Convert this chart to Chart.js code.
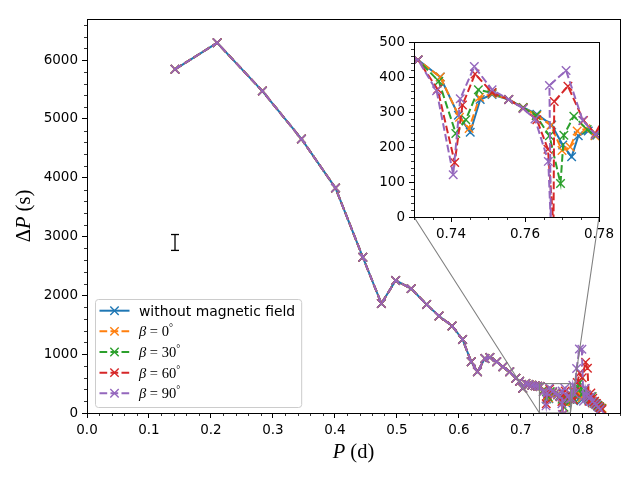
<!DOCTYPE html>
<html>
<head>
<meta charset="utf-8">
<script src="https://cdn.jsdelivr.net/npm/chart.js@4.4.1/dist/chart.umd.min.js"></script>
<style>
  html, body { margin: 0; padding: 0; background: #fff; }
  #wrap { position: relative; width: 640px; height: 480px; }
  #main { position: absolute; left: 0; top: 0; }
  #inset { position: absolute; left: 360px; top: 30px; }
</style>
</head>
<body>
<div id="wrap">
  <canvas id="main" width="640" height="480"></canvas>
  <canvas id="inset" width="262" height="220"></canvas>
</div>
<script>
// period spacing, all five runs coincide up to P ~ 0.73 d
const sharedPeriod = [0.142, 0.210, 0.283, 0.346, 0.401, 0.445, 0.475, 0.498, 0.523, 0.548, 0.568, 0.589, 0.606, 0.620, 0.630, 0.642, 0.650, 0.661, 0.671, 0.682, 0.692, 0.698, 0.703, 0.708, 0.713, 0.718, 0.723, 0.727, 0.7311];
const sharedDP = [5845, 6295, 5475, 4660, 3825, 2650, 1860, 2255, 2115, 1845, 1650, 1480, 1250, 870, 700, 925, 945, 870, 785, 700, 590, 540, 420, 500, 485, 470, 462, 456, 449];

// long-period tail, one list per run
const noFieldPeriod = [0.7371, 0.7420, 0.7452, 0.7479, 0.7511, 0.7556, 0.7595, 0.7632, 0.7672, 0.7702, 0.7726, 0.7744, 0.7771, 0.7794, 0.782, 0.785, 0.788, 0.791, 0.795, 0.799, 0.803, 0.806, 0.809, 0.812, 0.815, 0.818, 0.821, 0.824, 0.827, 0.830];
const noFieldDP = [400, 291, 242, 336, 350, 336, 313, 294, 263, 206, 172, 232, 246, 234, 255, 210, 280, 320, 260, 230, 290, 250, 220, 200, 180, 160, 140, 115, 95, 65];

const beta0Period = [0.7371, 0.7423, 0.7449, 0.7477, 0.7511, 0.7556, 0.7595, 0.7632, 0.7670, 0.7700, 0.7722, 0.7741, 0.7764, 0.7789, 0.782, 0.785, 0.788, 0.791, 0.795, 0.799, 0.803, 0.806, 0.809, 0.812, 0.815, 0.818, 0.821, 0.824, 0.827, 0.831];
const beta0DP = [400, 285, 253, 342, 352, 336, 313, 290, 262, 190, 200, 246, 252, 232, 270, 230, 300, 370, 320, 260, 320, 270, 240, 220, 200, 175, 150, 125, 105, 80];

const beta30Period = [0.7367, 0.7413, 0.7440, 0.7474, 0.7511, 0.7556, 0.7595, 0.7630, 0.7666, 0.7696, 0.7705, 0.7732, 0.7768, 0.7790, 0.782, 0.785, 0.788, 0.791, 0.795, 0.799, 0.803, 0.806, 0.809, 0.812, 0.815, 0.818, 0.821, 0.824, 0.827, 0.830];
const beta30DP = [388, 239, 278, 364, 355, 336, 312, 290, 232, 96, 234, 288, 250, 235, 290, 240, 330, 420, 520, 320, 380, 300, 260, 230, 280, 190, 160, 130, 107, 75];

const beta60Period = [0.7364, 0.7410, 0.7431, 0.7465, 0.7511, 0.7556, 0.7595, 0.7632, 0.7662, 0.7677, 0.7679, 0.7716, 0.7758, 0.7790, 0.782, 0.785, 0.788, 0.791, 0.795, 0.799, 0.8045, 0.8075, 0.810, 0.813, 0.816, 0.819, 0.822, 0.825, 0.828, 0.831];
const beta60DP = [365, 156, 320, 409, 356, 336, 310, 278, 194, -25, 330, 374, 276, 238, 300, 220, 360, 520, 680, 600, 865, 760, 200, 340, 250, 200, 160, 120, 90, 60];

const beta90Period = [0.7361, 0.7406, 0.7425, 0.7463, 0.7511, 0.7556, 0.7595, 0.7627, 0.7663, 0.7670, 0.7666, 0.7711, 0.7756, 0.7790, 0.7815, 0.784, 0.7865, 0.790, 0.7945, 0.7985, 0.801, 0.804, 0.807, 0.810, 0.813, 0.816, 0.819, 0.822, 0.825, 0.828];
const beta90DP = [361, 121, 338, 430, 364, 336, 310, 280, 159, -25, 376, 419, 276, 236, 250, 470, 330, 757, 1090, 1085, 200, 420, 300, 250, 280, 200, 160, 140, 100, 60];

const betaAngles = [0, 30, 60, 90];
const noFieldLabel = 'without magnetic field';

// typical uncertainty bar
const errorBarP = [0.142];
const errorBarDP = [2900];
const errorBarHalf = [135];

const mainXTicks = [0, 0.1, 0.2, 0.3, 0.4, 0.5, 0.6, 0.7, 0.8];
const mainYTicks = [0, 1000, 2000, 3000, 4000, 5000, 6000];
const insetXTicks = [0.74, 0.76, 0.78];
const insetYTicks = [0, 100, 200, 300, 400, 500];

const COLORS = ['#1f77b4', '#ff7f0e', '#2ca02c', '#d62728', '#9467bd'];
const DASH = [7.7, 3.3];
const SANS = '"DejaVu Sans", sans-serif';
const SERIF = '"Liberation Serif", "DejaVu Serif", serif';
const TITLE_SIZE = '20.5px ';

function pairs(xs, ys) {
  return xs.map((x, i) => ({ x: x, y: ys[i] }));
}

function buildDatasets() {
  const tails = [
    [noFieldPeriod, noFieldDP],
    [beta0Period, beta0DP],
    [beta30Period, beta30DP],
    [beta60Period, beta60DP],
    [beta90Period, beta90DP]
  ];
  return tails.map(([p, d], i) => ({
    data: pairs(sharedPeriod.concat(p), sharedDP.concat(d)),
    borderColor: COLORS[i],
    backgroundColor: COLORS[i],
    borderWidth: 2,
    borderDash: i === 0 ? [] : DASH,
    pointStyle: 'crossRot',
    pointRadius: 6,
    pointHoverRadius: 6,
    pointBorderWidth: 1.4,
    pointBorderColor: COLORS[i],
    tension: 0,
    fill: false,
    order: 5 - i   // last series ends up on top, like matplotlib
  }));
}

function axisOpts(min, max, ticks, size, fmt) {
  return {
    type: 'linear',
    min: min,
    max: max,
    afterBuildTicks: s => { s.ticks = ticks.map(v => ({ value: v })); },
    afterFit: s => { if (s.isHorizontal()) s.height = size; else s.width = size; },
    ticks: {
      color: '#000',
      font: { family: SANS, size: 13.5 },
      padding: 4,
      maxRotation: 0,
      autoSkip: false,
      callback: fmt
    },
    grid: {
      display: true,
      drawOnChartArea: false,
      drawTicks: true,
      tickLength: 5,
      color: '#000',
      tickColor: '#000',
      lineWidth: 1
    },
    border: { display: false }
  };
}

function minorTicks(ctx, scale, step, every, horizontal, edge) {
  const n0 = Math.ceil(scale.min / step - 1e-9);
  const n1 = Math.floor(scale.max / step + 1e-9);
  ctx.beginPath();
  for (let n = n0; n <= n1; n++) {
    if (n % every === 0) continue;
    const p = Math.round(scale.getPixelForValue(n * step)) + 0.5;
    if (horizontal) { ctx.moveTo(p, edge); ctx.lineTo(p, edge + 3); }
    else { ctx.moveTo(edge, p); ctx.lineTo(edge - 3, p); }
  }
  ctx.stroke();
}

// frame on all four sides + minor ticks, as matplotlib draws them
const framePlugin = {
  id: 'frame',
  afterDraw(chart, args, opts) {
    const { ctx, chartArea: a, scales } = chart;
    ctx.save();
    ctx.strokeStyle = '#000';
    ctx.lineWidth = 0.8;
    minorTicks(ctx, scales.x, opts.xMinor, opts.xEvery, true, a.bottom);
    minorTicks(ctx, scales.y, opts.yMinor, opts.yEvery, false, a.left);
    ctx.lineWidth = 1;
    ctx.strokeRect(Math.round(a.left) + 0.5, Math.round(a.top) + 0.5,
      Math.round(a.right) - Math.round(a.left), Math.round(a.bottom) - Math.round(a.top));
    ctx.restore();
  }
};

function drawRich(ctx, parts, x, y, center) {
  let w = 0;
  parts.forEach(p => { ctx.font = p[1]; w += ctx.measureText(p[0]).width; });
  let cx = center ? x - w / 2 : x;
  parts.forEach(p => {
    ctx.font = p[1];
    ctx.fillText(p[0], cx, y + (p[2] || 0));
    cx += ctx.measureText(p[0]).width;
  });
  return w;
}

const insetCanvas = document.getElementById('inset');
const insetChart = new Chart(insetCanvas, {
  type: 'line',
  data: { datasets: buildDatasets() },
  plugins: [framePlugin],
  options: {
    responsive: false,
    animation: false,
    devicePixelRatio: 1,
    layout: { padding: { left: 0, right: 23, top: 10, bottom: 0 } },
    plugins: {
      legend: { display: false },
      tooltip: { enabled: false },
      frame: { xMinor: 0.005, xEvery: 4, yMinor: 20, yEvery: 5 }
    },
    scales: {
      x: axisOpts(0.73, 0.78, insetXTicks, 33, v => v.toFixed(2)),
      y: axisOpts(0, 500, insetYTicks, 54, v => String(v))
    }
  }
});

const mainDecor = {
  id: 'mainDecor',
  afterDatasetsDraw(chart) {
    const { ctx, scales: { x, y } } = chart;
    const ix = insetChart.scales.x, iy = insetChart.scales.y, ia = insetChart.chartArea;
    const rx0 = x.getPixelForValue(ix.min), rx1 = x.getPixelForValue(ix.max);
    const ry0 = y.getPixelForValue(iy.min), ry1 = y.getPixelForValue(iy.max);
    const ox = insetCanvas.offsetLeft, oy = insetCanvas.offsetTop;
    ctx.save();
    ctx.strokeStyle = '#808080';
    ctx.lineWidth = 1.1;
    ctx.strokeRect(rx0, ry1, rx1 - rx0, ry0 - ry1);
    ctx.beginPath();
    ctx.moveTo(ia.left + ox, ia.bottom + oy);
    ctx.lineTo(rx0, ry0);
    ctx.moveTo(ia.right + ox, ia.bottom + oy);
    ctx.lineTo(rx1, ry0);
    ctx.stroke();
    ctx.restore();
  },
  afterDraw(chart) {
    const { ctx, chartArea: a } = chart;
    ctx.save();
    ctx.fillStyle = '#000';
    ctx.textBaseline = 'alphabetic';

    // axis titles
    drawRich(ctx, [['P', 'italic ' + TITLE_SIZE + SERIF], [' (d)', TITLE_SIZE + SERIF]],
      (a.left + a.right) / 2, 457.5, true);
    ctx.save();
    ctx.translate(23, (a.top + a.bottom) / 2);
    ctx.rotate(-Math.PI / 2);
    drawRich(ctx, [['\u0394', TITLE_SIZE + SERIF], ['P', 'italic ' + TITLE_SIZE + SERIF], [' (s)', TITLE_SIZE + SERIF]],
      0, 7, true);
    ctx.restore();

    // legend, lower left inside the axes
    const rowH = 20.65;
    const boxL = a.left + 8, boxB = a.bottom - 6, boxT = boxB - 108;
    const textX = boxL + 44;
    const labels = [[[noFieldLabel, '13.9px ' + SANS]]].concat(betaAngles.map(b => [
      ['\u03b2', 'italic 14.5px ' + SERIF],
      [' = ' + b, '14.5px ' + SERIF],
      ['\u00b0', '10px ' + SERIF, -5]
    ]));
    ctx.font = '13.9px ' + SANS;
    const boxR = textX + ctx.measureText(noFieldLabel).width + 6;
    ctx.beginPath();
    ctx.roundRect(boxL + 0.5, boxT + 0.5, boxR - boxL, boxB - boxT, 3);
    ctx.fillStyle = 'rgba(255,255,255,0.8)';
    ctx.fill();
    ctx.strokeStyle = '#cccccc';
    ctx.lineWidth = 1;
    ctx.stroke();
    labels.forEach((parts, i) => {
      const yy = boxT + 11.7 + i * rowH;
      const hx0 = boxL + 4.5, hx1 = boxL + 34.5, hm = (hx0 + hx1) / 2;
      ctx.strokeStyle = COLORS[i];
      ctx.lineWidth = 2;
      ctx.setLineDash(i === 0 ? [] : DASH);
      ctx.beginPath();
      ctx.moveTo(hx0, yy);
      ctx.lineTo(hx1, yy);
      ctx.stroke();
      ctx.setLineDash([]);
      ctx.lineWidth = 1.4;
      ctx.beginPath();
      ctx.moveTo(hm - 4.2, yy - 4.2); ctx.lineTo(hm + 4.2, yy + 4.2);
      ctx.moveTo(hm - 4.2, yy + 4.2); ctx.lineTo(hm + 4.2, yy - 4.2);
      ctx.stroke();
      ctx.fillStyle = '#000';
      drawRich(ctx, parts, textX, yy + 5, false);
    });
    ctx.restore();
  }
};

const mainSets = buildDatasets();
mainSets.push({
  data: [
    { x: errorBarP[0], y: errorBarDP[0] - errorBarHalf[0] },
    { x: errorBarP[0], y: errorBarDP[0] + errorBarHalf[0] }
  ],
  borderColor: '#000',
  backgroundColor: '#000',
  borderWidth: 1.3,
  pointStyle: 'line',
  pointRadius: 4,
  pointHoverRadius: 4,
  pointBorderWidth: 1.3,
  pointBorderColor: '#000',
  order: 10
});

new Chart(document.getElementById('main'), {
  type: 'line',
  data: { datasets: mainSets },
  plugins: [framePlugin, mainDecor],
  options: {
    responsive: false,
    animation: false,
    devicePixelRatio: 1,
    layout: { padding: { left: 0, right: 20, top: 19, bottom: 0 } },
    plugins: {
      legend: { display: false },
      tooltip: { enabled: false },
      frame: { xMinor: 0.02, xEvery: 5, yMinor: 200, yEvery: 5 }
    },
    scales: {
      x: axisOpts(0, 0.86, mainXTicks, 67, v => v.toFixed(1)),
      y: axisOpts(0, 6700, mainYTicks, 87, v => String(v))
    }
  }
});
</script>
</body>
</html>
